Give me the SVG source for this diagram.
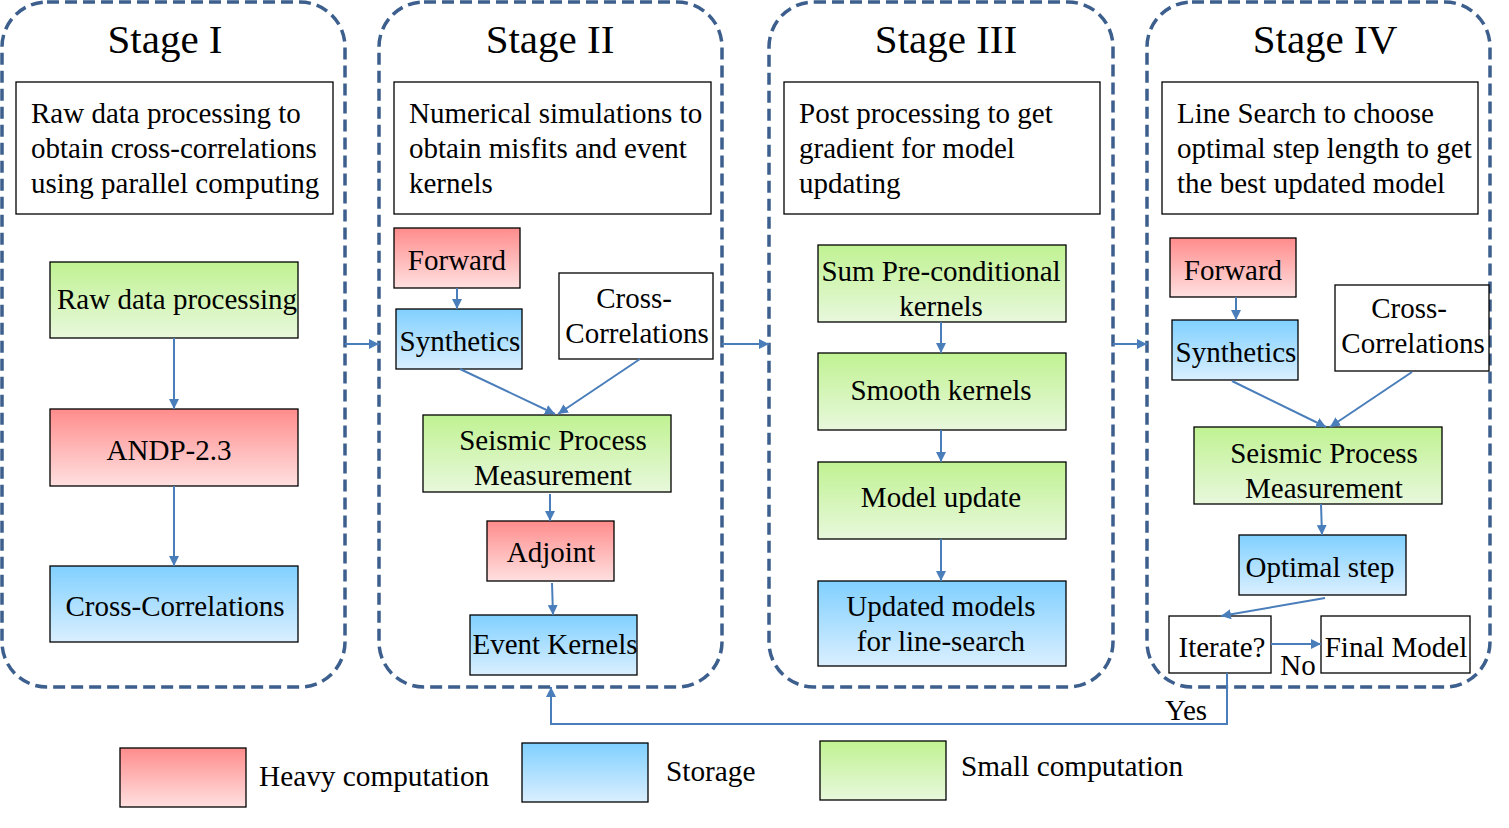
<svg xmlns="http://www.w3.org/2000/svg" width="1509" height="828" viewBox="0 0 1509 828">
<defs>
<linearGradient id="gRed" x1="0" y1="0" x2="0" y2="1"><stop offset="0" stop-color="#ff8c8c"/><stop offset="1" stop-color="#ffe0e0"/></linearGradient>
<linearGradient id="gBlue" x1="0" y1="0" x2="0" y2="1"><stop offset="0" stop-color="#80d0ff"/><stop offset="1" stop-color="#daefff"/></linearGradient>
<linearGradient id="gGreen" x1="0" y1="0" x2="0" y2="1"><stop offset="0" stop-color="#c0f292"/><stop offset="1" stop-color="#e8f8dc"/></linearGradient>
<marker id="arr" viewBox="0 0 10 10" refX="10" refY="5" markerWidth="5" markerHeight="5" markerUnits="strokeWidth" orient="auto"><path d="M0,0 L10,5 L0,10 z" fill="#4a7ebb"/></marker>
<style>
.stage{fill:none;stroke:#3c5f8d;stroke-width:3.5;stroke-dasharray:12 6}
.box{stroke:#000;stroke-width:1.3}
.red{fill:url(#gRed)}.blue{fill:url(#gBlue)}.green{fill:url(#gGreen)}.white{fill:#fff}
text{font-family:"Liberation Serif","Times New Roman",serif;fill:#000}
.title{font-size:41px;text-anchor:middle}
.desc{font-size:29px}
.lbl{font-size:29px;text-anchor:middle}
.leg{font-size:29.3px}
.con{fill:none;stroke:#4a7ebb;stroke-width:2;marker-end:url(#arr)}
</style>
</defs>
<rect width="1509" height="828" fill="#fff"/>

<g id="stage1">
<rect class="stage" x="2" y="2" width="343" height="685" rx="45" ry="45"/>
<text class="title" x="165" y="53">Stage I</text>
<rect class="box white" x="16" y="82" width="317" height="132"/>
<text class="desc" x="31" y="123">Raw data processing to</text>
<text class="desc" x="31" y="158">obtain cross-correlations</text>
<text class="desc" x="31" y="193">using parallel computing</text>
</g>
<g id="rawproc"><rect class="box green" x="50" y="262" width="248" height="76"/><text class="lbl" x="177" y="309">Raw data processing</text></g>
<g id="andp"><rect class="box red" x="50" y="409" width="248" height="77"/><text class="lbl" x="169" y="460">ANDP-2.3</text></g>
<g id="cc1"><rect class="box blue" x="50" y="566" width="248" height="76"/><text class="lbl" x="175" y="616">Cross-Correlations</text></g>

<g id="stage2">
<rect class="stage" x="379" y="2" width="343" height="685" rx="45" ry="45"/>
<text class="title" x="550" y="53">Stage II</text>
<rect class="box white" x="394" y="82" width="317" height="132"/>
<text class="desc" x="409" y="123">Numerical simulations to</text>
<text class="desc" x="409" y="158">obtain misfits and event</text>
<text class="desc" x="409" y="193">kernels</text>
</g>
<g id="fwd2"><rect class="box red" x="394" y="228" width="126" height="60"/><text class="lbl" x="457" y="270">Forward</text></g>
<g id="syn2"><rect class="box blue" x="396" y="309" width="126" height="60"/><text class="lbl" x="460" y="351">Synthetics</text></g>
<g id="cc2"><rect class="box white" x="559" y="273" width="154" height="86"/><text class="lbl" x="634" y="308">Cross-</text><text class="lbl" x="637" y="343">Correlations</text></g>
<g id="spm2"><rect class="box green" x="423" y="415" width="248" height="77"/><text class="lbl" x="553" y="450">Seismic Process</text><text class="lbl" x="553" y="485">Measurement</text></g>
<g id="adj"><rect class="box red" x="487" y="521" width="127" height="60"/><text class="lbl" x="551" y="562">Adjoint</text></g>
<g id="ek"><rect class="box blue" x="470" y="615" width="167" height="60"/><text class="lbl" x="555" y="654">Event Kernels</text></g>

<g id="stage3">
<rect class="stage" x="769" y="2" width="344" height="685" rx="45" ry="45"/>
<text class="title" x="946" y="53">Stage III</text>
<rect class="box white" x="784" y="82" width="316" height="132"/>
<text class="desc" x="799" y="123">Post processing to get</text>
<text class="desc" x="799" y="158">gradient for model</text>
<text class="desc" x="799" y="193">updating</text>
</g>
<g id="sumpre"><rect class="box green" x="818" y="245" width="248" height="77"/><text class="lbl" x="941" y="281">Sum Pre-conditional</text><text class="lbl" x="941" y="316">kernels</text></g>
<g id="smooth"><rect class="box green" x="818" y="353" width="248" height="77"/><text class="lbl" x="941" y="400">Smooth kernels</text></g>
<g id="modupd"><rect class="box green" x="818" y="462" width="248" height="77"/><text class="lbl" x="941" y="507">Model update</text></g>
<g id="updmod"><rect class="box blue" x="818" y="581" width="248" height="85"/><text class="lbl" x="941" y="616">Updated models</text><text class="lbl" x="941" y="651">for line-search</text></g>

<g id="stage4">
<rect class="stage" x="1147" y="2" width="343" height="685" rx="45" ry="45"/>
<text class="title" x="1325" y="53">Stage IV</text>
<rect class="box white" x="1162" y="82" width="316" height="132"/>
<text class="desc" x="1177" y="123">Line Search to choose</text>
<text class="desc" x="1177" y="158">optimal step length to get</text>
<text class="desc" x="1177" y="193">the best updated model</text>
</g>
<g id="fwd4"><rect class="box red" x="1170" y="238" width="126" height="59"/><text class="lbl" x="1233" y="280">Forward</text></g>
<g id="syn4"><rect class="box blue" x="1172" y="320" width="126" height="60"/><text class="lbl" x="1236" y="362">Synthetics</text></g>
<g id="cc4"><rect class="box white" x="1335" y="285" width="154" height="86"/><text class="lbl" x="1409" y="318">Cross-</text><text class="lbl" x="1413" y="353">Correlations</text></g>
<g id="spm4"><rect class="box green" x="1194" y="427" width="248" height="77"/><text class="lbl" x="1324" y="463">Seismic Process</text><text class="lbl" x="1324" y="498">Measurement</text></g>
<g id="opt"><rect class="box blue" x="1239" y="535" width="167" height="60"/><text class="lbl" x="1320" y="577">Optimal step</text></g>
<g id="iter"><rect class="box white" x="1169" y="616" width="102" height="57"/><text class="lbl" x="1222" y="657">Iterate?</text></g>
<g id="final"><rect class="box white" x="1321" y="616" width="149" height="57"/><text class="lbl" x="1396" y="657">Final Model</text></g>

<g id="connectors">
<path class="con" d="M174,338 L174,409"/>
<path class="con" d="M174,486 L174,566"/>
<path class="con" d="M345,344 L379,344"/>
<path class="con" d="M722,344 L769,344"/>
<path class="con" d="M1113,344 L1147,344"/>
<path class="con" d="M457,288 L457,309"/>
<path class="con" d="M460,369 L555,414"/>
<path class="con" d="M640,359 L558,414"/>
<path class="con" d="M550,494 L550,521"/>
<path class="con" d="M552,583 L553,615"/>
<path class="con" d="M941,322 L941,353"/>
<path class="con" d="M941,430 L941,462"/>
<path class="con" d="M941,539 L941,581"/>
<path class="con" d="M1236,297 L1236,320"/>
<path class="con" d="M1232,381 L1326,427"/>
<path class="con" d="M1412,372 L1330,427"/>
<path class="con" d="M1321,504 L1322,535"/>
<path class="con" d="M1325,598 L1221,616"/>
<path class="con" d="M1271,644 L1321,644"/>
<path class="con" d="M1227,673 L1227,724 L551,724 L551,687"/>
<text class="lbl" x="1298" y="675">No</text>
<text class="lbl" x="1186" y="720">Yes</text>
</g>

<g id="legend">
<rect class="box red" x="120" y="748" width="126" height="59"/>
<text class="leg" x="259" y="786">Heavy computation</text>
<rect class="box blue" x="522" y="743" width="126" height="59"/>
<text class="leg" x="666" y="781">Storage</text>
<rect class="box green" x="820" y="741" width="126" height="59"/>
<text class="leg" x="961" y="776">Small computation</text>
</g>
</svg>
